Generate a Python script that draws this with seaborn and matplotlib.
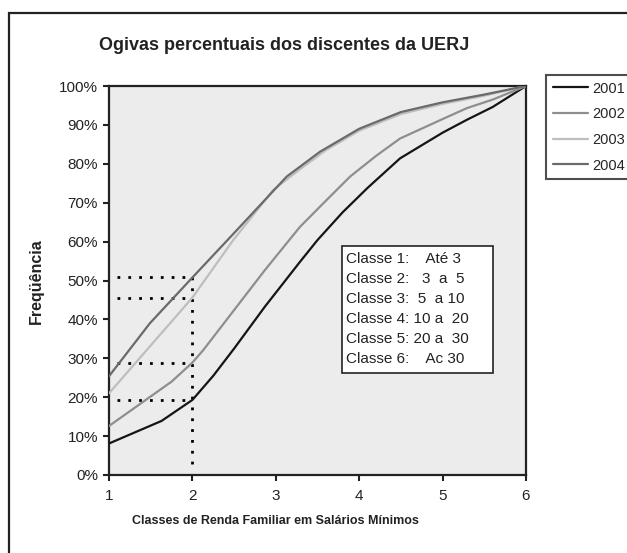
import pandas as pd
import numpy as np
import seaborn as sns
import matplotlib.pyplot as plt
from matplotlib.patches import Rectangle

# values (classe, % acumulado)
x_2001 = [1, 1.63, 2, 2.25, 2.5, 2.87, 3.29, 3.5, 3.8, 4.1, 4.49, 5, 5.29, 5.6, 6]
y_2001 = [8.1, 13.9, 19.3, 25.5, 32.5, 43.3, 54.8, 60.4, 67.5, 73.8, 81.4, 88.0, 91.3, 94.6, 100]
x_2002 = [1, 1.75, 2, 2.13, 2.87, 3.29, 3.6, 3.89, 4.2, 4.49, 5, 5.29, 5.6, 6]
y_2002 = [12.6, 24.0, 28.9, 32.1, 52.7, 63.8, 70.5, 76.7, 82.0, 86.5, 91.5, 94.3, 96.5, 100]
x_2003 = [1, 2, 2.49, 2.97, 3.29, 3.6, 4, 4.5, 5, 5.5, 6]
y_2003 = [21.0, 45.6, 60.4, 73.3, 78.6, 83.5, 88.5, 92.8, 95.4, 97.5, 100]
x_2004 = [1, 1.49, 2.01, 2.5, 3.13, 3.53, 4, 4.5, 5, 5.5, 6]
y_2004 = [25.4, 39.0, 51.0, 62.2, 76.7, 83.1, 89.0, 93.3, 95.8, 97.8, 100]

anos = ['2001', '2002', '2003', '2004']
cores = ['#151515', '#8e8e8e', '#bebebe', '#6a6a6a']

# dotted guides at class 2
guia_y = [51.0, 45.6, 28.9, 19.3]

classes_txt = ['Classe 1:    Até 3', 'Classe 2:   3  a  5', 'Classe 3:  5  a 10',
               'Classe 4: 10 a  20', 'Classe 5: 20 a  30', 'Classe 6:    Ac 30']

df = pd.concat([
    pd.DataFrame({'classe': x_2001, 'freq': y_2001, 'ano': '2001'}),
    pd.DataFrame({'classe': x_2002, 'freq': y_2002, 'ano': '2002'}),
    pd.DataFrame({'classe': x_2003, 'freq': y_2003, 'ano': '2003'}),
    pd.DataFrame({'classe': x_2004, 'freq': y_2004, 'ano': '2004'}),
])

sns.set_style('white')
plt.rcParams['font.family'] = ['Liberation Sans', 'DejaVu Sans']

fig = plt.figure(figsize=(6.27, 5.53), dpi=100)
ax = fig.add_axes([109/627, 78/553, 417/627, 389/553])
ax.set_facecolor('#ececec')

# outer frame
fig.patches.append(Rectangle((9/627, -0.2), 1.2, 1 - 12.7/553 + 0.2, transform=fig.transFigure,
                             fill=False, edgecolor='#222222', linewidth=1.6))

# dotted guides
for g in guia_y:
    ax.plot([1.09, 2], [g, g], color='black', linestyle=(0, (1, 2.9)), linewidth=2, zorder=1)
ax.plot([2, 2], [max(guia_y), 2.2], color='black', linestyle=(0, (1, 2.9)), linewidth=2, zorder=1)

sns.lineplot(data=df, x='classe', y='freq', hue='ano', palette=dict(zip(anos, cores)),
             estimator=None, sort=False, linewidth=1.6, ax=ax, legend=False, zorder=3)

ax.set_xlim(1, 6)
ax.set_ylim(0, 100)
ax.set_xticks([1, 2, 3, 4, 5, 6])
ax.set_yticks(np.arange(0, 101, 10))
ax.set_yticklabels([f'{v}%' for v in range(0, 101, 10)])
ax.tick_params(axis='both', direction='out', length=4, width=1.5, labelsize=11,
               colors='#222222', pad=4, left=True, bottom=True)
ax.tick_params(axis='x', pad=6)
for s in ax.spines.values():
    s.set_color('#222222')
    s.set_linewidth(1.6)

ax.set_xlabel('')
ax.set_ylabel('')
fig.text(275/627, 1 - 521/553, 'Classes de Renda Familiar em Salários Mínimos', ha='center',
         va='center', fontsize=9, fontweight='bold', color='#222222')
fig.text(36/627, 1 - 281/553, 'Freqüência', ha='center', va='center', rotation=90,
         fontsize=11.5, fontweight='bold', color='#222222')
fig.text(284/627, 1 - 46/553, 'Ogivas percentuais dos discentes da UERJ', ha='center',
         va='center', fontsize=13, fontweight='bold', color='#222222')

# class box
ax.add_patch(Rectangle((0.559, 0.262), 0.362, 0.327, transform=ax.transAxes,
                       facecolor='white', edgecolor='#222222', linewidth=1.2, zorder=4))
for i, t in enumerate(classes_txt):
    ax.text(0.568, 0.555 - i * 0.0515, t, transform=ax.transAxes, fontsize=11,
            va='center', ha='left', color='#222222', zorder=5)

# legend
handles = [plt.Line2D([], [], color=c, linewidth=1.6) for c in cores]
fig.legend(handles, anos, loc='upper left', bbox_to_anchor=(546/627, 1 - 75/553),
           fontsize=10.5, frameon=True, fancybox=False, edgecolor='#222222',
           handlelength=2.4, handletextpad=0.3, labelspacing=0.8, borderpad=0.45,
           borderaxespad=0).get_frame().set_linewidth(1.5)

plt.savefig('out.png', dpi=100)
